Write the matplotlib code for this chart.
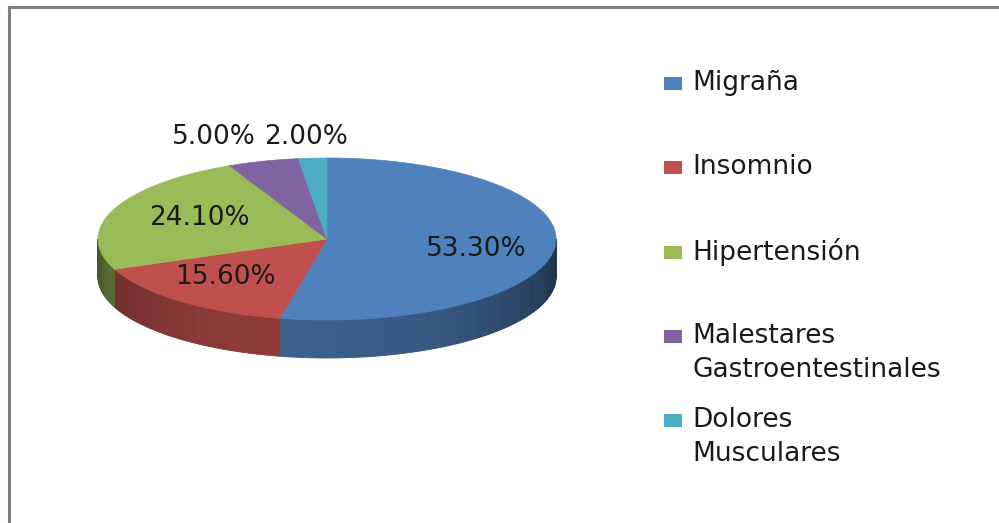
import numpy as np
import matplotlib.pyplot as plt
from matplotlib.patches import Polygon, Rectangle
from matplotlib.lines import Line2D

# Chart data
categories = ['Migraña', 'Insomnio', 'Hipertensión',
              'Malestares\nGastroentestinales', 'Dolores\nMusculares']
values = [53.3, 15.6, 24.1, 5.0, 2.0]
pct_labels = ['53.30%', '15.60%', '24.10%', '5.00%', '2.00%']
colors = ['#4F81BD', '#C0504D', '#9BBB59', '#8064A2', '#4BACC6']

plt.rcParams['font.family'] = ['DejaVu Sans']
FS = 19
TXT = '#1a1a1a'

fig = plt.figure(figsize=(9.99, 5.23), dpi=100)
ax = fig.add_axes([0, 0, 1, 1])
ax.set_xlim(0, 999)
ax.set_ylim(523, 0)
ax.axis('off')

# pie geometry (pixels), angles clockwise from 12 o'clock
cx, cy, a, b, depth = 327, 239, 229, 81, 38


def ell(t, dy=0.0):
    return cx + a * np.sin(t), cy - b * np.cos(t) + dy


def shade(rgb, t):
    f = 0.40 + 0.34 * max(0.0, np.cos(t - 3.3))
    return tuple(np.clip(np.array(rgb) * f, 0, 1))


bounds = np.concatenate([[0], np.cumsum(values)]) / sum(values) * 2 * np.pi

# side walls (only the front half is visible)
for i, col in enumerate(colors):
    t0 = max(bounds[i], np.pi / 2)
    t1 = min(bounds[i + 1], 3 * np.pi / 2)
    if t1 <= t0:
        continue
    rgb = plt.matplotlib.colors.to_rgb(col)
    n = max(2, int(np.degrees(t1 - t0)))
    ts = np.linspace(t0, t1, n + 1)
    for j in range(n):
        ta, tb = ts[j], ts[j + 1]
        pts = [ell(ta), ell(tb), ell(tb, depth), ell(ta, depth)]
        c = shade(rgb, (ta + tb) / 2)
        ax.add_patch(Polygon(pts, closed=True, facecolor=c, edgecolor=c, lw=0.6))

# top faces
for i, col in enumerate(colors):
    ts = np.linspace(bounds[i], bounds[i + 1], 120)
    xs, ys = ell(ts)
    pts = [(cx, cy)] + list(zip(xs, ys))
    ax.add_patch(Polygon(pts, closed=True, facecolor=col, edgecolor=col, lw=0.5))

# percentage labels: big slices inside, small ones above the pie
label_r = [(0.655, 1.2), (0.69, 0.61), (0.60, 0.71)]
for i, (rx, ry) in enumerate(label_r):
    tm = (bounds[i] + bounds[i + 1]) / 2
    lx, ly = cx + rx * a * np.sin(tm), cy - ry * b * np.cos(tm)
    ax.text(lx, ly, pct_labels[i], ha='center', va='center', fontsize=FS, color=TXT)
ax.text(cx - 71, cy - b - 21, pct_labels[3], ha='right', va='center',
        fontsize=FS, color=TXT)
ax.text(cx - 63, cy - b - 21, pct_labels[4], ha='left', va='center',
        fontsize=FS, color=TXT)

# legend (marker sits on the first line of each entry)
leg_y = [83, 167, 252, 336, 420]
line_gap = 34
for col, lab, y in zip(colors, categories, leg_y):
    ax.add_patch(Rectangle((664, y - 6.5), 18, 13, facecolor=col, edgecolor='none'))
    for k, part in enumerate(lab.split('\n')):
        ax.text(692, y + k * line_gap, part, ha='left', va='center',
                fontsize=FS, color=TXT)

# chart border (top and left edges visible)
fig.add_artist(Line2D([8.5 / 999, 1], [1 - 7 / 523, 1 - 7 / 523], color='#808080', lw=2.2))
fig.add_artist(Line2D([8.5 / 999, 8.5 / 999], [0, 1 - 7 / 523], color='#808080', lw=2.2))

fig.savefig('out.png', dpi=100)
